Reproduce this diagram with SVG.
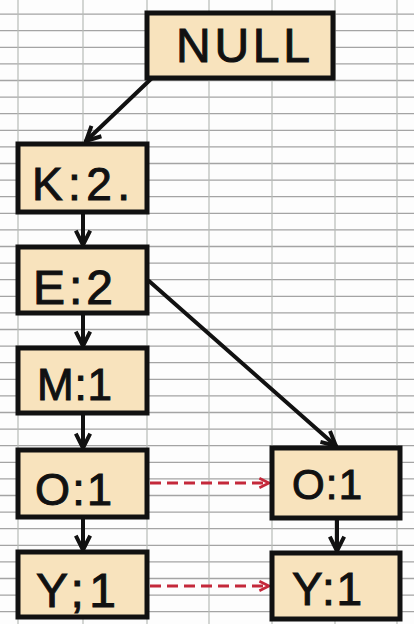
<svg xmlns="http://www.w3.org/2000/svg" width="414" height="624" viewBox="0 0 414 624">
<defs>
<style>
.grid-h{stroke:#a4a4a4;stroke-width:1.3;fill:none}
.grid-v{stroke:#b8bcb8;stroke-width:1.2;fill:none}
.box{fill:#f8e3bd;stroke:#111;stroke-width:5}
.lbl{font-family:"Liberation Sans","DejaVu Sans",sans-serif;fill:#111;stroke:#111;stroke-width:1}
.edge{stroke:#111;stroke-width:4;fill:none;stroke-linecap:round}
.dash{stroke:#c4283a;stroke-width:3;fill:none;stroke-dasharray:11 6}
</style>
<marker id="ah" viewBox="0 0 10 10" refX="9" refY="5" markerWidth="4.5" markerHeight="4.5" orient="auto" markerUnits="strokeWidth">
<path d="M1,1 L9,5 L1,9" fill="none" stroke="#111" stroke-width="2.2" stroke-linejoin="miter"/>
</marker>
<marker id="ahr" viewBox="0 0 10 10" refX="9" refY="5" markerWidth="4" markerHeight="4" orient="auto" markerUnits="strokeWidth">
<path d="M1,1 L9,5 L1,9" fill="none" stroke="#c4283a" stroke-width="2.2"/>
</marker>
</defs>
<rect width="414" height="624" fill="#fdfdfd"/>
<g id="grid">
<path class="grid-h" d="M0,14.1H414M0,30.7H414M0,47.3H414M0,63.9H414M0,80.5H414M0,97.1H414M0,113.7H414M0,130.3H414M0,146.9H414M0,163.5H414M0,180.1H414M0,196.7H414M0,213.3H414M0,229.9H414M0,246.5H414M0,263.1H414M0,279.7H414M0,296.3H414M0,312.9H414M0,329.5H414M0,346.1H414M0,362.7H414M0,379.3H414M0,395.9H414M0,412.5H414M0,429.1H414M0,445.7H414M0,462.3H414M0,478.9H414M0,495.5H414M0,512.1H414M0,528.7H414M0,545.3H414M0,561.9H414M0,578.5H414M0,595.1H414M0,611.7H414"/>
<path class="grid-v" d="M18,0V624M83,0V624M147,0V624M209,0V624M272,0V624M335,0V624M397,0V624"/>
</g>
<g id="connectors">
<line class="edge" x1="152" y1="78" x2="86" y2="141" stroke-width="5" marker-end="url(#ah)"/>
<line class="edge" x1="83" y1="213" x2="83" y2="245" marker-end="url(#ah)"/>
<line class="edge" x1="83" y1="314" x2="83" y2="346" marker-end="url(#ah)"/>
<line class="edge" x1="83" y1="414" x2="83" y2="448" marker-end="url(#ah)"/>
<line class="edge" x1="83" y1="518" x2="83" y2="550" marker-end="url(#ah)"/>
<line class="edge" x1="149" y1="281" x2="336" y2="446" marker-end="url(#ah)"/>
<line class="edge" x1="337" y1="519" x2="337" y2="551" marker-end="url(#ah)"/>
<line class="dash" x1="150" y1="483" x2="269" y2="483" marker-end="url(#ahr)"/>
<line class="dash" x1="150" y1="586" x2="269" y2="586" marker-end="url(#ahr)"/>
</g>
<g id="null">
<rect class="box" x="147" y="13" width="186" height="65"/>
<text class="lbl" x="176" y="62" font-size="48" textLength="134" lengthAdjust="spacing">NULL</text>
</g>
<g id="k2">
<rect class="box" x="18" y="144" width="129" height="68"/>
<text class="lbl" x="32" y="200" font-size="46" textLength="98" lengthAdjust="spacing">K:2.</text>
</g>
<g id="e2">
<rect class="box" x="18" y="247" width="129" height="66"/>
<text class="lbl" x="33" y="304" font-size="48" textLength="80" lengthAdjust="spacing">E:2</text>
</g>
<g id="m1">
<rect class="box" x="18" y="348" width="129" height="65"/>
<text class="lbl" x="37" y="400" font-size="44" textLength="75" lengthAdjust="spacing">M:1</text>
</g>
<g id="o1">
<rect class="box" x="18" y="450" width="129" height="67"/>
<text class="lbl" x="35" y="505" font-size="45" textLength="77" lengthAdjust="spacing">O:1</text>
</g>
<g id="y1">
<rect class="box" x="18" y="552" width="129" height="65"/>
<text class="lbl" x="36" y="607" font-size="48" textLength="80" lengthAdjust="spacing">Y;1</text>
</g>
<g id="o1r">
<rect class="box" x="272" y="448" width="128" height="70"/>
<text class="lbl" x="292" y="499" font-size="42" textLength="70" lengthAdjust="spacing">O:1</text>
</g>
<g id="y1r">
<rect class="box" x="272" y="553" width="128" height="66"/>
<text class="lbl" x="292" y="605" font-size="46" textLength="70" lengthAdjust="spacing">Y:1</text>
</g>
</svg>
